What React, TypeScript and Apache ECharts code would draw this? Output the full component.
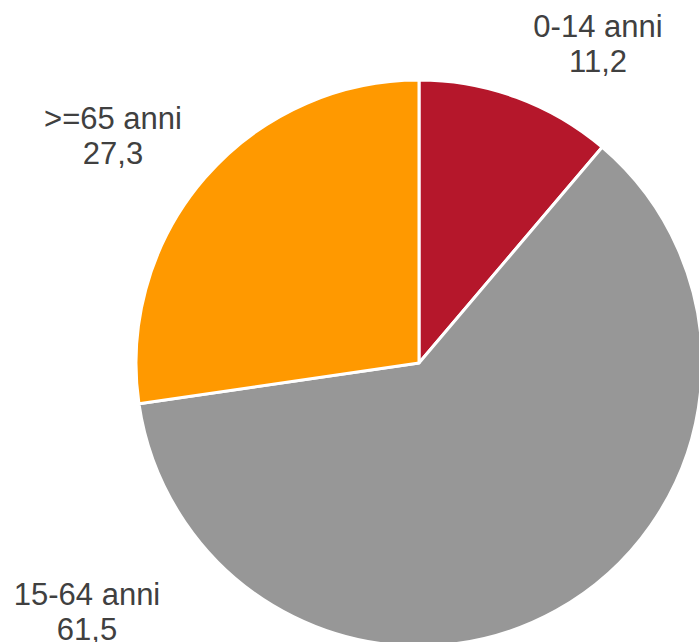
import React, { useEffect, useRef } from "react";
import * as echarts from "echarts";

const categories = ["0-14 anni", "15-64 anni", ">=65 anni"];
const values = [11.2, 61.5, 27.3];
const colors = ["#B5172B", "#979797", "#FF9900"];
const labelPositions = [
  [598, 44],
  [87, 612],
  [113, 136],
];

export default function App() {
  const ref = useRef<HTMLDivElement>(null);
  useEffect(() => {
    document.body.style.margin = "0";
    const chart = echarts.init(ref.current!, null, { renderer: "svg" });
    chart.setOption({
      animation: false,
      backgroundColor: "#ffffff",
      series: [
        {
          type: "pie",
          center: [419, 363],
          radius: 283,
          startAngle: 90,
          clockwise: true,
          data: categories.map((c, i) => ({
            name: c,
            value: values[i],
            itemStyle: { color: colors[i] },
          })),
          itemStyle: { borderColor: "#ffffff", borderWidth: 3 },
          label: {
            show: true,
            position: "outside",
            formatter: (p: any) =>
              p.name + "\n" + Number(p.value).toFixed(1).replace(".", ","),
            fontSize: 31,
            lineHeight: 35,
            color: "#404040",
            fontFamily: "Liberation Sans, Arial, sans-serif",
            align: "center",
            overflow: "none",
            width: 300,
          },
          labelLine: { show: false },
          labelLayout: (params: any) => ({
            x: labelPositions[params.dataIndex][0],
            y: labelPositions[params.dataIndex][1],
            align: "center",
            verticalAlign: "middle",
            hideOverlap: false,
          }),
          avoidLabelOverlap: false,
          emphasis: { disabled: true },
        },
      ],
    });
    return () => chart.dispose();
  }, []);
  return <div ref={ref} style={{ width: 699, height: 642 }} />;
}
